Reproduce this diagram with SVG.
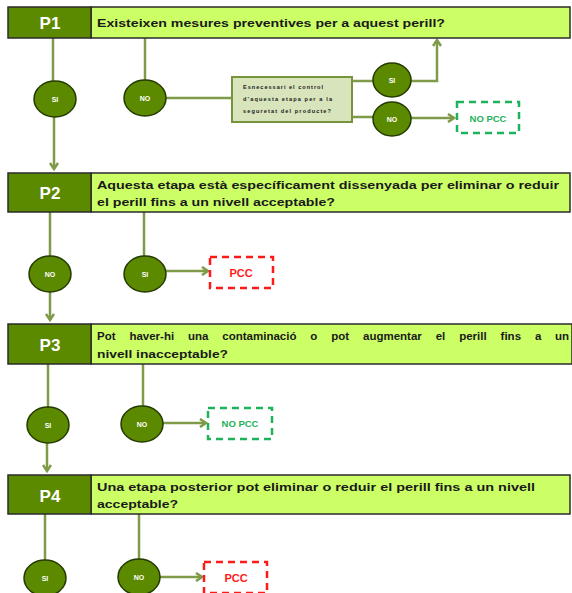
<svg xmlns="http://www.w3.org/2000/svg" width="572" height="593" viewBox="0 0 572 593">
<style>
.hdL{fill:#5b8a00;stroke:#2b2b2b;stroke-width:1.5}
.hdR{fill:#ccff66;stroke:#2b2b2b;stroke-width:1.5}
.pl{font-family:"Liberation Sans",Arial,sans-serif;font-weight:bold;font-size:17px;fill:#ffffff;text-anchor:middle}
.q{font-family:"Liberation Sans",Arial,sans-serif;font-weight:bold;font-size:11.5px;fill:#1a1a1a}
.el{fill:#5b8a00;stroke:#243a00;stroke-width:1.5}
.et{font-family:"Liberation Sans",Arial,sans-serif;font-weight:bold;font-size:7px;fill:#ffffff;text-anchor:middle}
.cn{fill:none;stroke:#7f9a48;stroke-width:2.5}
.pcc{fill:#ffffff;stroke:#ff1a1a;stroke-width:2.5;stroke-dasharray:7,5}
.npcc{fill:#ffffff;stroke:#1db35a;stroke-width:2.5;stroke-dasharray:7,5}
.pt{font-family:"Liberation Sans",Arial,sans-serif;font-weight:bold;font-size:11px;fill:#ff1a1a;text-anchor:middle}
.nt{font-family:"Liberation Sans",Arial,sans-serif;font-weight:bold;font-size:9.5px;fill:#1db35a;text-anchor:middle}
.bx{fill:#d8e4bc;stroke:#77933c;stroke-width:2}
.bt{font-family:"Liberation Sans",Arial,sans-serif;font-weight:bold;font-size:5.6px;fill:#1a1a1a}
</style>
<defs>
<marker id="ar" markerWidth="10" markerHeight="10" refX="7" refY="5" orient="auto" markerUnits="userSpaceOnUse">
<polyline points="1,1 7,5 1,9" fill="none" stroke="#7f9a48" stroke-width="2.5"/>
</marker>
</defs>
<g id="connectors">
<line class="cn" x1="53" y1="38" x2="53" y2="81"/>
<line class="cn" x1="54" y1="117" x2="54" y2="169" marker-end="url(#ar)"/>
<line class="cn" x1="145" y1="38" x2="145" y2="81"/>
<line class="cn" x1="166" y1="98" x2="232" y2="98"/>
<line class="cn" x1="352" y1="81" x2="373" y2="81"/>
<polyline class="cn" points="411,81 437,81 437,40" marker-end="url(#ar)"/>
<line class="cn" x1="352" y1="117" x2="373" y2="117"/>
<line class="cn" x1="411" y1="118" x2="454" y2="118" marker-end="url(#ar)"/>
<line class="cn" x1="50" y1="212" x2="50" y2="257"/>
<line class="cn" x1="50" y1="292" x2="50" y2="320" marker-end="url(#ar)"/>
<line class="cn" x1="144" y1="212" x2="144" y2="256"/>
<line class="cn" x1="166" y1="271" x2="208" y2="271" marker-end="url(#ar)"/>
<line class="cn" x1="48" y1="364" x2="48" y2="407"/>
<line class="cn" x1="47" y1="443" x2="47" y2="471" marker-end="url(#ar)"/>
<line class="cn" x1="143" y1="364" x2="143" y2="406"/>
<line class="cn" x1="163" y1="423" x2="206" y2="423" marker-end="url(#ar)"/>
<line class="cn" x1="45" y1="514" x2="45" y2="560"/>
<line class="cn" x1="139" y1="514" x2="139" y2="560"/>
<line class="cn" x1="160" y1="577" x2="202" y2="577" marker-end="url(#ar)"/>
</g>
<g id="P1">
<rect class="hdR" x="91" y="7" width="479" height="31"/>
<rect class="hdL" x="8" y="7" width="83" height="31"/>
<text class="pl" x="50" y="29">P1</text>
<text class="q" x="97" y="27" textLength="348" lengthAdjust="spacingAndGlyphs">Existeixen mesures preventives per a aquest perill?</text>
</g>
<g id="P1-SI"><ellipse class="el" cx="55" cy="99" rx="21" ry="18"/><text class="et" x="55" y="101.5">SI</text></g>
<g id="P1-NO"><ellipse class="el" cx="145" cy="98" rx="21" ry="18"/><text class="et" x="145" y="100.5">NO</text></g>
<g id="P1-box">
<rect class="bx" x="232" y="77" width="120" height="45"/>
<text class="bt" x="243" y="89" textLength="80" lengthAdjust="spacing">Esnecessari el control</text>
<text class="bt" x="243" y="101" textLength="89" lengthAdjust="spacing">d’aquesta etapa per a la</text>
<text class="bt" x="243" y="113" textLength="88" lengthAdjust="spacing">seguretat del producte?</text>
</g>
<g id="P1-SI2"><ellipse class="el" cx="392" cy="80" rx="19" ry="17"/><text class="et" x="392" y="82.5">SI</text></g>
<g id="P1-NO2"><ellipse class="el" cx="392" cy="119" rx="19" ry="17"/><text class="et" x="392" y="121.5">NO</text></g>
<g id="P1-NOPCC"><rect class="npcc" x="457" y="102" width="62" height="31"/><text class="nt" x="488" y="121.5">NO PCC</text></g>
<g id="P2">
<rect class="hdR" x="91" y="173" width="479" height="39"/>
<rect class="hdL" x="8" y="173" width="83" height="39"/>
<text class="pl" x="50" y="199">P2</text>
<text class="q" x="97" y="189" textLength="462" lengthAdjust="spacingAndGlyphs">Aquesta etapa està específicament dissenyada per eliminar o reduir</text>
<text class="q" x="97" y="206" textLength="238" lengthAdjust="spacingAndGlyphs">el perill fins a un nivell acceptable?</text>
</g>
<g id="P2-NO"><ellipse class="el" cx="50" cy="274" rx="21" ry="18"/><text class="et" x="50" y="276.5">NO</text></g>
<g id="P2-SI"><ellipse class="el" cx="145" cy="274" rx="21" ry="18"/><text class="et" x="145" y="276.5">SI</text></g>
<g id="P2-PCC"><rect class="pcc" x="210" y="257" width="63" height="31"/><text class="pt" x="241" y="277">PCC</text></g>
<g id="P3">
<rect class="hdR" x="91" y="324" width="481" height="40"/>
<rect class="hdL" x="8" y="324" width="83" height="40"/>
<text class="pl" x="50" y="351">P3</text>
<text class="q" y="340"><tspan x="97">Pot </tspan><tspan x="129.4">haver-hi </tspan><tspan x="188">una </tspan><tspan x="222.3">contaminació </tspan><tspan x="310.3">o </tspan><tspan x="331.2">pot </tspan><tspan x="363">augmentar </tspan><tspan x="435.7">el </tspan><tspan x="459.2">perill </tspan><tspan x="500.6">fins </tspan><tspan x="534.9">a </tspan><tspan x="555">un</tspan></text>
<text class="q" x="97" y="358" textLength="131" lengthAdjust="spacingAndGlyphs">nivell inacceptable?</text>
</g>
<g id="P3-SI"><ellipse class="el" cx="48" cy="425" rx="21" ry="18"/><text class="et" x="48" y="427.5">SI</text></g>
<g id="P3-NO"><ellipse class="el" cx="142" cy="424" rx="21" ry="18"/><text class="et" x="142" y="426.5">NO</text></g>
<g id="P3-NOPCC"><rect class="npcc" x="208" y="408" width="64" height="31"/><text class="nt" x="240" y="427">NO PCC</text></g>
<g id="P4">
<rect class="hdR" x="91" y="475" width="479" height="39"/>
<rect class="hdL" x="8" y="475" width="83" height="39"/>
<text class="pl" x="50" y="502">P4</text>
<text class="q" x="97" y="491" textLength="438" lengthAdjust="spacingAndGlyphs">Una etapa posterior pot eliminar o reduir el perill fins a un nivell</text>
<text class="q" x="97" y="508" textLength="81" lengthAdjust="spacingAndGlyphs">acceptable?</text>
</g>
<g id="P4-SI"><ellipse class="el" cx="45" cy="578" rx="21" ry="18"/><text class="et" x="45" y="580.5">SI</text></g>
<g id="P4-NO"><ellipse class="el" cx="139" cy="577" rx="21" ry="18"/><text class="et" x="139" y="579.5">NO</text></g>
<g id="P4-PCC"><rect class="pcc" x="204" y="562" width="63" height="31"/><text class="pt" x="236" y="582">PCC</text></g>
</svg>
